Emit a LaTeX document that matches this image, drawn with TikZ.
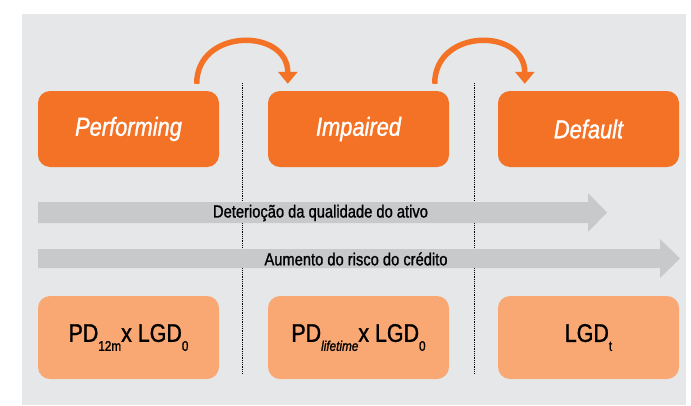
\documentclass[tikz,border=0pt]{standalone}
\usepackage{fontspec}
\setmainfont{Liberation Sans}[FakeStretch=0.84,FakeBold=1.2]
\usetikzlibrary{arrows.meta}

\definecolor{orangeStark}{RGB}{243,114,38}
\definecolor{orangeHell}{RGB}{249,168,115}
\definecolor{grauHG}{RGB}{230,231,232}
\definecolor{grauPfeil}{RGB}{200,201,203}

% Index unter der Grundlinie
\newcommand{\tief}[1]{\raisebox{-9pt}{\fontsize{14}{14}\selectfont #1}}

\begin{document}
\begin{tikzpicture}[x=1pt,y=-1pt,
    stufe/.style={fill=orangeStark, rounded corners=12pt, minimum width=181pt, minimum height=76pt, inner sep=0pt, text=white, font=\fontsize{26}{26}\selectfont\itshape},
    formel/.style={fill=orangeHell, rounded corners=12pt, minimum width=181pt, minimum height=83pt, inner sep=0pt, font=\fontsize{25.5}{25.5}\selectfont},
    bogen/.style={orangeStark, line width=5.5pt, -{Triangle[width=19pt,length=12pt]}},
    trenn/.style={densely dotted, line width=0.8pt},
    bandtext/.style={inner sep=0pt, font=\fontsize{17.5}{17.5}\selectfont}]

				      \useasboundingbox (0,0) rectangle (691,405);

				      % Hintergrund
				      \fill[grauHG] (22,14) rectangle (686,405);

				      % Trennlinien zwischen den Stufen
				      \draw[trenn] (242.5,83) -- (242.5,373);
				      \draw[trenn] (474,83) -- (474,373);

				      % Stufen oben
				      \node[stufe] (perf) at (128.5,129) {Performing};
				      \node[stufe] (imp) at (358.5,129) {Impaired};
				      \node[stufe] (def) at (588.5,129) {Default};

				      % Boegen zwischen den Stufen
				      \draw[bogen] ([xshift=-22.5pt,yshift=7pt]perf.north east) .. controls +(0,-56) and +(0,-56) .. ([xshift=20pt,yshift=7pt]imp.north west);
				      \draw[bogen] ([xshift=-14.5pt,yshift=7pt]imp.north east) .. controls +(0,-56) and +(0,-56) .. ([xshift=27pt,yshift=7pt]def.north west);

				      % Graue Pfeile
				      \fill[grauPfeil] (38,202) -- (588,202) -- (588,193) -- (607,212.5) -- (588,232) -- (588,223) -- (38,223) -- cycle;
				      \node[bandtext] (qual) at (320.5,213) {Deterioção da qualidade do ativo};

				      \fill[grauPfeil] (38,249) -- (660,249) -- (660,239) -- (680,258.5) -- (660,278) -- (660,268) -- (38,268) -- cycle;
				      \node[bandtext] (risk) at (356,259) {Aumento do risco do crédito};

				      % Formeln unten
				      \node[formel] (f1) at (128.5,337.5) {PD\tief{12m}x LGD\tief{0}};
				      \node[formel] (f2) at (358.5,337.5) {PD\tief{\itshape lifetime}x LGD\tief{0}};
				      \node[formel] (f3) at (588.5,337.5) {LGD\tief{t}};

\end{tikzpicture}
\end{document}
